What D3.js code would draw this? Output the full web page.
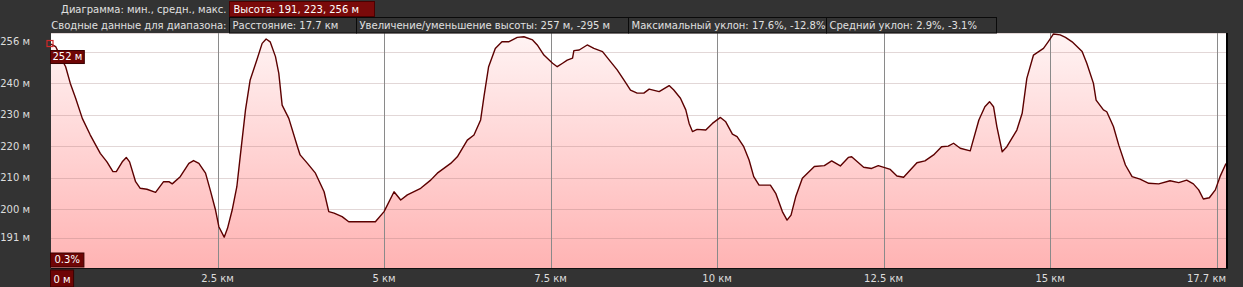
<!DOCTYPE html>
<html>
<head>
<meta charset="utf-8">
<script src="https://cdn.jsdelivr.net/npm/d3@7"></script>
<style>
  html, body { margin: 0; padding: 0; background: #333; overflow: hidden; }
</style>
</head>
<body>
<div id="chart"></div>
<script>
// elevation profile (km, m)
const distKm = [0.00, 0.07, 0.14, 0.22, 0.29, 0.37, 0.47, 0.59, 0.74, 0.84, 0.93, 0.98, 1.07, 1.13, 1.18, 1.27,
  1.34, 1.44, 1.57, 1.69, 1.77, 1.82, 1.94, 2.07, 2.14, 2.22, 2.32, 2.39, 2.47, 2.52, 2.60, 2.65, 2.72, 2.79,
  2.84, 2.92, 2.99, 3.09, 3.17, 3.23, 3.29, 3.37, 3.42, 3.47, 3.57, 3.70, 3.74, 3.85, 3.97, 4.10, 4.17, 4.25,
  4.37, 4.47, 4.87, 5.00, 5.15, 5.25, 5.35, 5.55, 5.70, 5.80, 6.00, 6.10, 6.25, 6.35, 6.45, 6.50, 6.57, 6.67,
  6.77, 6.87, 7.00, 7.10, 7.23, 7.30, 7.40, 7.53, 7.60, 7.68, 7.75, 7.83, 7.85, 7.93, 8.05, 8.15, 8.28, 8.40,
  8.50, 8.60, 8.70, 8.80, 8.90, 8.98, 9.13, 9.28, 9.35, 9.45, 9.53, 9.58, 9.63, 9.70, 9.83, 9.93, 10.05, 10.13,
  10.23, 10.30, 10.40, 10.48, 10.55, 10.63, 10.80, 10.88, 10.98, 11.05, 11.11, 11.18, 11.28, 11.46, 11.61, 11.72,
  11.85, 11.97, 12.02, 12.20, 12.32, 12.42, 12.60, 12.70, 12.80, 13.00, 13.12, 13.25, 13.37, 13.47, 13.55, 13.65,
  13.80, 13.93, 14.02, 14.09, 14.15, 14.20, 14.28, 14.35, 14.50, 14.58, 14.65, 14.75, 14.90, 14.97, 15.05, 15.15,
  15.23, 15.33, 15.48, 15.55, 15.65, 15.69, 15.80, 15.85, 15.95, 16.03, 16.13, 16.23, 16.35, 16.48, 16.63, 16.80,
  16.93, 17.05, 17.15, 17.23, 17.30, 17.39, 17.48, 17.55, 17.64];
const elevM = [252.5, 251.7, 248.5, 245.3, 240.0, 235.3, 228.9, 223.6, 217.8, 215.1, 212.0, 212.0, 215.1, 216.5, 215.1, 208.8,
  206.7, 206.4, 205.4, 208.8, 208.8, 208.1, 210.4, 214.6, 215.5, 214.6, 211.5, 206.2, 199.8, 194.5, 191.2, 194.0, 199.8, 207.2,
  216.7, 231.6, 241.1, 247.4, 252.7, 254.1, 253.2, 248.5, 243.2, 233.1, 228.9, 219.9, 217.3, 214.6, 211.5, 205.6, 199.3, 198.8,
  197.7, 196.1, 196.1, 199.3, 205.6, 203.0, 204.6, 206.7, 209.3, 211.5, 214.6, 216.7, 222.0, 223.6, 228.4, 235.8, 245.3, 251.1,
  253.2, 253.2, 254.6, 254.8, 253.8, 252.2, 249.0, 246.4, 245.3, 246.4, 247.4, 248.0, 250.4, 250.6, 252.2, 251.1, 250.1, 246.9,
  244.3, 241.1, 237.9, 236.9, 236.9, 238.2, 237.4, 239.3, 237.9, 235.3, 231.6, 227.3, 224.7, 225.4, 225.2, 227.3, 229.2, 227.8,
  223.9, 223.1, 219.9, 215.7, 210.4, 207.7, 207.7, 205.1, 199.3, 196.6, 198.2, 204.0, 209.9, 213.6, 213.9, 215.4,
  213.8, 216.5, 216.7, 213.4, 213.0, 213.9, 212.7, 210.6, 210.2, 214.8, 215.4, 217.3, 219.9, 220.1, 221.0, 219.4,
  218.6, 228.4, 232.6, 234.2, 232.6, 226.3, 218.3, 219.9, 225.2, 230.5, 241.6, 249.0, 251.1, 253.2, 255.7, 255.4,
  254.6, 253.2, 250.1, 246.4, 240.0, 234.7, 231.6, 231.0, 226.3, 220.4, 214.1, 210.4, 209.6, 208.3, 208.1, 209.1,
  208.5, 209.3, 208.1, 206.2, 203.3, 203.7, 206.2, 210.4, 214.6];

const yTickValues = [256, 250, 240, 230, 220, 210, 200, 191];
const yTickLabels = ["256 м", "", "240 м", "230 м", "220 м", "210 м", "200 м", "191 м"];
const xTickValues = [0, 2.5, 5, 7.5, 10, 12.5, 15, 17.5];
const xTickLabels = ["0 м", "2.5 км", "5 км", "7.5 км", "10 км", "12.5 км", "15 км", "17.7 км"];

const row1Label = "Диаграмма: мин., средн., макс.";
const row1Boxes = ["Высота: 191, 223, 256 м"];
const row2Label = "Сводные данные для диапазона:";
const row2Boxes = ["Расстояние: 17.7 км", "Увеличение/уменьшение высоты: 257 м, -295 м",
  "Максимальный уклон: 17.6%, -12.8%", "Средний уклон: 2.9%, -3.1%"];
const startLabel = "252 м";
const gradeLabel = "0.3%";

const width = 1243, height = 287;
const margin = ({top: 33, left: 51, right: 17, bottom: 19});
// header cell widths (layout)
const row1CellW = [145];
const row2CellW = [127, 272, 198, 170];
const data = distKm.map((d, i) => ({km: d, m: elevM[i]}));

const x = d3.scaleLinear([0, 17.64], [margin.left, width - margin.right]);
const y = d3.scaleLinear([181.4, 256], [height - margin.bottom, margin.top]);

const font = "'DejaVu Sans', Verdana, sans-serif";
const svg = d3.select("#chart").append("svg")
  .attr("width", width)
  .attr("height", height)
  .style("display", "block")
  .style("background", "#333")
  .attr("font-family", font)
  .attr("font-size", 10);

const defs = svg.append("defs");
const grad = defs.append("linearGradient")
  .attr("id", "fillGrad")
  .attr("gradientUnits", "userSpaceOnUse")
  .attr("x1", 0).attr("x2", 0)
  .attr("y1", margin.top).attr("y2", height - margin.bottom);
grad.append("stop").attr("offset", 0).attr("stop-color", "#fff4f4");
grad.append("stop").attr("offset", 1).attr("stop-color", "#ffb3b3");

// plot background
svg.append("rect")
  .attr("x", margin.left).attr("y", margin.top)
  .attr("width", x.range()[1] - margin.left)
  .attr("height", y.range()[0] - margin.top)
  .attr("fill", "#fff");

// area
svg.append("path")
  .datum(data)
  .attr("fill", "url(#fillGrad)")
  .attr("d", d3.area().x(d => x(d.km)).y0(y.range()[0]).y1(d => y(d.m)));

// horizontal grid
svg.append("g")
  .selectAll("line")
  .data(yTickValues)
  .join("line")
  .attr("x1", margin.left).attr("x2", x.range()[1])
  .attr("y1", d => Math.round(y(d)) + 0.5).attr("y2", d => Math.round(y(d)) + 0.5)
  .attr("stroke", "rgba(150,110,110,0.28)");

// vertical grid
svg.append("g")
  .selectAll("line")
  .data(xTickValues.slice(1))
  .join("line")
  .attr("x1", d => Math.round(x(d)) + 0.5).attr("x2", d => Math.round(x(d)) + 0.5)
  .attr("y1", margin.top).attr("y2", y.range()[0])
  .attr("stroke", "#8a8a8a");

// profile line
svg.append("path")
  .datum(data)
  .attr("fill", "none")
  .attr("stroke", "#5c0000")
  .attr("stroke-width", 1.4)
  .attr("stroke-linejoin", "round")
  .attr("d", d3.line().x(d => x(d.km)).y(d => y(d.m)));

// plot frame
svg.append("line")
  .attr("x1", x.range()[1] + 1).attr("x2", x.range()[1] + 1)
  .attr("y1", margin.top).attr("y2", y.range()[0])
  .attr("stroke", "#000").attr("stroke-width", 2);
svg.append("line")
  .attr("x1", margin.left).attr("x2", x.range()[1] + 2)
  .attr("y1", y.range()[0] + 0.5).attr("y2", y.range()[0] + 0.5)
  .attr("stroke", "#111");

// y labels
svg.append("g")
  .selectAll("text")
  .data(yTickValues.filter((d, i) => yTickLabels[i]))
  .join("text")
  .attr("x", 30)
  .attr("y", d => Math.max(y(d), 41) + 3.5)
  .attr("text-anchor", "end")
  .attr("fill", "#ddd")
  .text(d => yTickLabels[yTickValues.indexOf(d)]);

// x labels
svg.append("g")
  .selectAll("text")
  .data(xTickValues.slice(1))
  .join("text")
  .attr("x", (d, i) => i === xTickValues.length - 2 ? x.range()[1] : x(d))
  .attr("y", 282)
  .attr("text-anchor", (d, i) => i === xTickValues.length - 2 ? "end" : "middle")
  .attr("fill", "#ddd")
  .text((d, i) => xTickLabels[i + 1]);

// dark red tag boxes
function tag(px, py, label, padX, h) {
  const g = svg.append("g");
  const r = g.append("rect").attr("fill", "#6e0505").attr("stroke", "#3a0000");
  const t = g.append("text").attr("fill", "#fff").attr("x", px + padX).attr("y", py + h - 4).text(label);
  const w = t.node().getComputedTextLength() + padX * 2;
  r.attr("x", px).attr("y", py).attr("width", w).attr("height", h);
  return w;
}
tag(x(0) - 0.5, y.range()[0] + 2, xTickLabels[0], 3, 17);
tag(x(0) - 0.5, y.range()[0] - 15, gradeLabel, 4, 14);
tag(x(0) - 0.5, y(elevM[0]) + 6.5, startLabel, 2, 13);

// start marker
svg.append("rect")
  .attr("x", x(distKm[0]) - 4).attr("y", y(elevM[0]) - 3.5)
  .attr("width", 6).attr("height", 6)
  .attr("fill", "none").attr("stroke", "#d02828").attr("stroke-width", 1.2);

// header rows
const headX = 229.5;
svg.append("text").attr("x", headX - 3).attr("y", 13).attr("text-anchor", "end").attr("fill", "#e0e0e0").text(row1Label);
svg.append("text").attr("x", headX - 3).attr("y", 29).attr("text-anchor", "end").attr("fill", "#e0e0e0").text(row2Label);

let cx = headX;
row1Boxes.forEach((s, i) => {
  const g = svg.append("g");
  g.append("rect").attr("fill", "#7a0a0a").attr("stroke", "#4a0000")
    .attr("x", cx).attr("y", 1.5).attr("width", row1CellW[i]).attr("height", 15);
  g.append("text").attr("x", cx + 4).attr("y", 13).attr("fill", "#fff").text(s);
  cx += row1CellW[i];
});
cx = headX;
row2Boxes.forEach((s, i) => {
  const g = svg.append("g");
  g.append("rect").attr("fill", "#333").attr("stroke", "#0a0a0a")
    .attr("x", cx).attr("y", 17.5).attr("width", row2CellW[i]).attr("height", 15.5);
  g.append("text").attr("x", cx + 3).attr("y", 29).attr("fill", "#e0e0e0").text(s);
  cx += row2CellW[i];
});
</script>
</body>
</html>
